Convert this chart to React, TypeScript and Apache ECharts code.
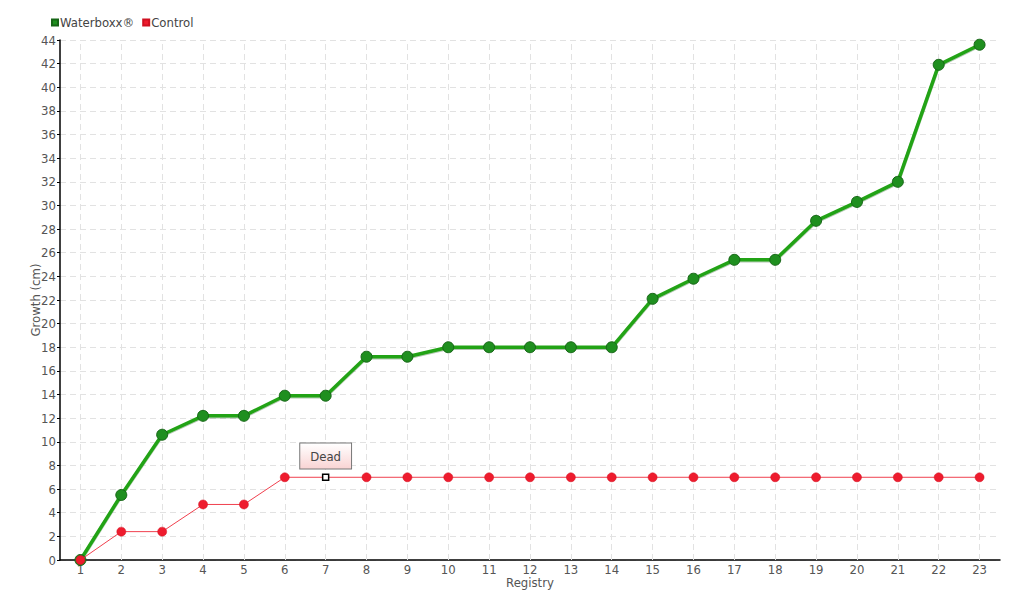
import React, { useEffect, useRef } from "react";
import * as echarts from "echarts";

const registry = ["1","2","3","4","5","6","7","8","9","10","11","12","13","14","15","16","17","18","19","20","21","22","23"];
const waterboxx = [0, 5.5, 10.6, 12.2, 12.2, 13.9, 13.9, 17.2, 17.2, 18, 18, 18, 18, 18, 22.1, 23.8, 25.4, 25.4, 28.7, 30.3, 32, 41.9, 43.6];
const control = [0, 2.4, 2.4, 4.7, 4.7, 7, 7, 7, 7, 7, 7, 7, 7, 7, 7, 7, 7, 7, 7, 7, 7, 7, 7];
const deadIndex = 6;
const deadLabel = "Dead";

const FONT = "'DejaVu Sans Condensed', 'Liberation Sans Narrow', sans-serif";

export default function App() {
  const ref = useRef<HTMLDivElement>(null);
  useEffect(() => {
    const chart = echarts.init(ref.current!, null, { renderer: "svg" });
    const controlData = control.map((v, i) =>
      i === deadIndex
        ? {
            value: v,
            symbol: "rect",
            symbolSize: 6,
            itemStyle: { color: "#ffffff", borderColor: "#000000", borderWidth: 1.5 },
            label: {
              show: true,
              formatter: deadLabel,
              position: "top",
              distance: 5,
              color: "#444",
              fontFamily: FONT,
              fontSize: 13,
              padding: [6, 10, 6, 10],
              borderColor: "#777",
              borderWidth: 1,
              backgroundColor: new echarts.graphic.LinearGradient(0, 0, 0, 1, [
                { offset: 0, color: "#ffffff" },
                { offset: 1, color: "#f9d4d4" },
              ]),
            },
          }
        : v
    );
    chart.setOption({
      animation: false,
      textStyle: { fontFamily: FONT },
      legend: {
        left: 46,
        top: 11,
        icon: "rect",
        itemWidth: 6,
        itemHeight: 6,
        itemGap: 8,
        textStyle: { color: "#444", fontSize: 13, fontFamily: FONT, padding: [0, 0, 0, -3] },
        data: ["Waterboxx®", "Control"],
      },
      grid: { left: 60, right: 20, top: 40, bottom: 40, containLabel: false, outerBoundsMode: "none" },
      xAxis: {
        type: "category",
        data: registry,
        boundaryGap: true,
        name: "Registry",
        nameLocation: "middle",
        nameGap: 16,
        nameMoveOverlap: false,
        nameTextStyle: { color: "#555", fontSize: 13, fontFamily: FONT, verticalAlign: "top" },
        axisLine: { lineStyle: { color: "#000", width: 1.5 } },
        axisTick: { alignWithLabel: true, length: 4, lineStyle: { color: "#000" } },
        axisLabel: { color: "#555", fontSize: 13, fontFamily: FONT, margin: 3 },
        splitLine: { show: false },
      },
      yAxis: {
        type: "value",
        min: 0,
        max: 44,
        interval: 2,
        name: "Growth (cm)",
        nameLocation: "middle",
        nameRotate: 90,
        nameGap: 25,
        nameMoveOverlap: false,
        nameTextStyle: { color: "#555", fontSize: 13, fontFamily: FONT, verticalAlign: "middle" },
        axisLine: { show: true, lineStyle: { color: "#000", width: 1.5 } },
        axisTick: { show: true, length: 3, lineStyle: { color: "#000" } },
        axisLabel: { color: "#555", fontSize: 13, fontFamily: FONT, margin: 4 },
        splitLine: { show: true, lineStyle: { color: "#e2e2e2", type: [6, 4], width: 1 } },
      },
      series: [
        {
          name: "Waterboxx®",
          type: "line",
          data: waterboxx,
          color: "#1fa01f",
          symbol: "circle",
          symbolSize: 11,
          lineStyle: { color: "#22a314", width: 3.5, shadowColor: "rgba(0,60,0,0.3)", shadowBlur: 1, shadowOffsetY: 1 },
          itemStyle: { color: "#1f8f1f", borderColor: "#176617", borderWidth: 1 },
          z: 3,
          markLine: {
            silent: true,
            symbol: ["none", "none"],
            label: { show: false },
            lineStyle: { color: "#e2e2e2", type: [6, 4], width: 1 },
            data: registry.map((c) => ({ xAxis: c })),
            z: 1,
          },
        },
        {
          name: "Control",
          type: "line",
          data: controlData,
          color: "#ee1c2e",
          symbol: "circle",
          symbolSize: 9,
          lineStyle: { color: "#f0404e", width: 1 },
          itemStyle: { color: "#ee1c2e", borderColor: "#d01020", borderWidth: 0.5 },
          z: 4,
        },
      ],
    });
    return () => chart.dispose();
  }, []);
  return (
    <div
      ref={ref}
      style={{ position: "fixed", left: 0, top: 0, width: 1020, height: 600, background: "#fff" }}
    />
  );
}
